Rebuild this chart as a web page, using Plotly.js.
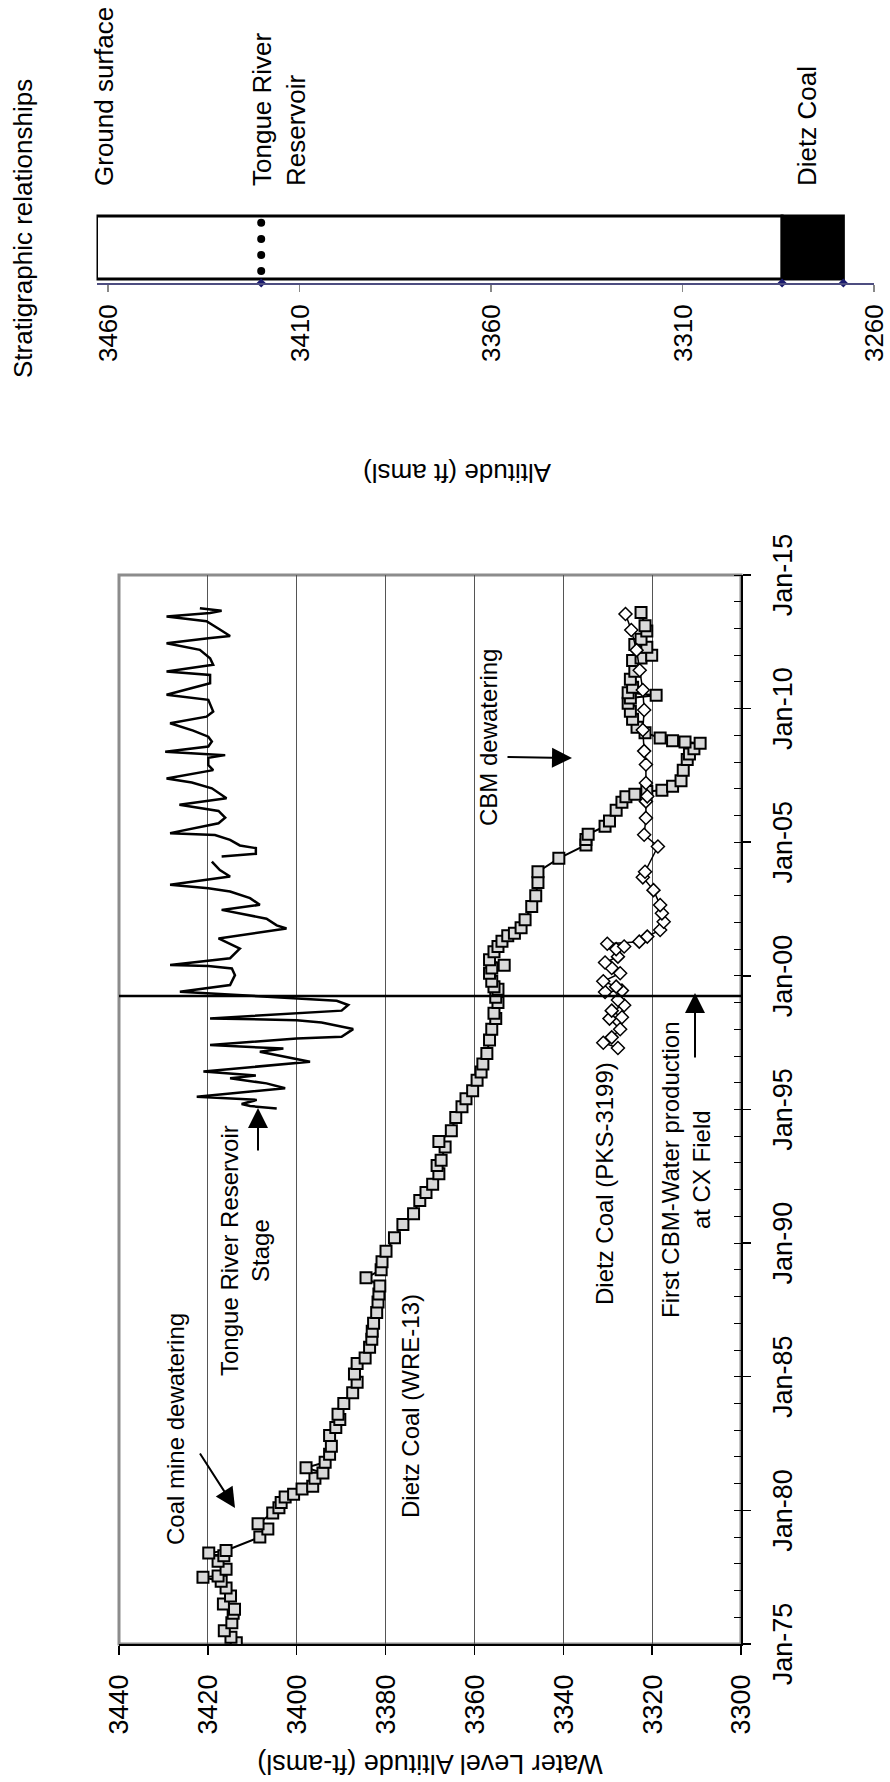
<!DOCTYPE html>
<html><head><meta charset="utf-8">
<script src="https://cdn.plot.ly/plotly-3.0.1.min.js"></script>
<style>
html,body{margin:0;padding:0;background:#fff;overflow:hidden;width:890px;height:1782px;}
#wrap{position:absolute;left:0;top:0;width:1782px;height:890px;transform-origin:0 0;transform:translate(0px,1782px) rotate(-90deg);}
#chart{width:1782px;height:890px;}
</style></head><body><div id="wrap"><div id="chart"></div></div>
<script>
// ---- Dietz Coal (WRE-13) water level (decimal year, ft-amsl)
const wreYears = [1975.05,1975.25,1975.5,1975.8,1976.15,1976.3,1976.5,1976.8,1977.1,1977.35,1977.5,1977.55,1977.8,1978.1,1978.3,1978.4,1978.5,
1979.0,1979.3,1979.5,1979.9,1980.1,1980.3,1980.5,1980.6,1980.8,1980.9,1981.2,1981.4,1981.6,1981.8,1982.1,1982.4,1982.8,1983.1,1983.4,1983.6,
1984.0,1984.4,1984.8,1985.1,1985.5,1985.7,1986.1,1986.4,1986.7,1987.0,1987.4,1987.8,1988.1,1988.4,1988.7,1989.0,1989.3,1989.7,1990.2,1990.7,
1991.1,1991.6,1991.9,1992.2,1992.6,1992.9,1993.1,1993.6,1993.8,1994.2,1994.7,1995.1,1995.4,1995.7,1996.1,1996.4,1996.7,1997.1,1997.6,1998.0,
1998.4,1998.6,1999.0,1999.2,1999.5,1999.6,1999.8,2000.1,2000.3,2000.4,2000.6,2000.9,2001.1,2001.3,2001.5,2001.6,2001.8,2002.1,2002.6,2003.0,
2003.5,2003.9,2004.4,2004.9,2005.1,2005.3,2005.6,2005.8,2006.2,2006.5,2006.7,2006.8,2006.9,2006.95,2007.1,2007.3,2007.7,2008.1,2008.3,2008.5,
2008.7,2008.75,2008.8,2008.9,2009.1,2009.3,2009.6,2009.9,2010.2,2010.4,2010.5,2010.6,2010.8,2011.1,2011.4,2011.8,2011.9,2012.0,2012.3,2012.4,
2012.6,2012.9,2013.1,2013.6];
const wreLevels = [3413.6,3414.8,3416.3,3414.6,3414.3,3414.0,3416.5,3414.9,3415.9,3417.0,3421.1,3417.7,3415.9,3417.7,3416.4,3419.8,3415.9,
3408.3,3406.5,3408.7,3405.4,3404.0,3403.5,3402.6,3400.7,3398.8,3396.4,3395.9,3394.1,3397.9,3393.6,3392.6,3392.2,3392.6,3391.2,3390.3,3390.7,
3389.4,3387.4,3386.4,3387.0,3386.4,3384.6,3383.6,3383.1,3383.0,3382.7,3382.0,3381.7,3381.5,3381.3,3384.4,3381.0,3380.8,3379.9,3378.0,3376.1,
3373.7,3372.3,3370.9,3369.4,3368.0,3368.4,3367.5,3366.6,3368.0,3365.2,3364.2,3362.8,3361.9,3360.4,3359.4,3358.5,3358.1,3357.2,3356.6,3356.1,
3355.2,3355.6,3354.7,3355.2,3354.7,3355.6,3356.1,3356.6,3356.1,3353.3,3356.6,3355.6,3354.7,3353.8,3352.5,3351.0,3349.5,3348.6,3347.1,3346.2,
3345.7,3345.7,3341.0,3334.9,3334.9,3334.4,3330.6,3329.6,3328.1,3326.8,3325.9,3323.9,3321.2,3317.8,3315.4,3313.5,3313.0,3312.1,3311.6,3310.6,
3309.2,3312.6,3315.4,3318.2,3321.6,3323.4,3324.4,3324.9,3325.4,3324.9,3319.1,3325.4,3324.4,3324.9,3323.9,3324.4,3322.5,3320.1,3321.2,3323.9,
3322.5,3321.2,3321.6,3322.5];

// ---- Dietz Coal (PKS-3199)
const pksYears = [1997.3,1997.5,1997.7,1998.0,1998.4,1998.45,1998.7,1998.9,1999.1,1999.4,1999.45,1999.6,1999.8,2000.1,2000.3,2000.5,2000.72,
2001.0,2001.1,2001.2,2001.28,2001.47,2001.72,2002.03,2002.34,2002.65,2003.21,2003.69,2003.9,2004.84,2005.28,2005.91,2006.53,2006.72,2007.22,
2007.91,2008.41,2009.2,2009.95,2010.7,2011.44,2012.19,2012.94,2013.54];
const pksLevels = [3327.7,3331.0,3329.1,3327.2,3329.6,3326.8,3329.1,3326.3,3327.7,3330.6,3326.8,3328.1,3331.0,3327.2,3329.1,3330.6,3327.7,
3328.1,3326.3,3330.1,3322.9,3321.1,3318.2,3317.4,3317.8,3318.2,3319.7,3322.1,3321.6,3318.7,3321.8,3321.4,3321.4,3321.1,3321.4,
3321.4,3321.8,3322.1,3321.8,3322.1,3322.8,3323.5,3324.7,3326.0];

// ---- Tongue River Reservoir stage
const resYears = [1995.04,1995.13,1995.21,1995.36,1995.48,1995.80,1995.98,1996.17,1996.27,1996.42,1996.79,1997.16,1997.28,1997.41,1997.66,
1997.72,1998.01,1998.26,1998.34,1998.41,1998.70,1998.91,1999.07,1999.41,1999.66,2000.03,2000.28,2000.37,2000.41,2000.66,2000.97,2001.02,
2001.40,2001.77,2001.89,2002.14,2002.47,2002.66,2002.91,2003.16,2003.28,2003.41,2003.72,2003.96,2004.28,2004.38,2004.47,2004.57,2004.78,
2004.88,2005.09,2005.27,2005.34,2005.62,2005.71,2005.92,2006.17,2006.40,2006.65,2007.02,2007.24,2007.39,2007.70,2007.89,2008.16,2008.26,
2008.39,2008.58,2008.77,2008.95,2009.18,2009.45,2009.70,2009.89,2010.33,2010.52,2010.95,2011.26,2011.39,2011.64,2011.89,2012.20,2012.45,
2012.63,2012.72,2012.96,2013.27,2013.45,2013.58,2013.66,2013.76];
const resStage = [3404.5,3410.5,3412.4,3409.0,3422.5,3402.6,3406.8,3415.0,3409.2,3421.0,3397.0,3408.3,3403.0,3419.5,3400.0,
3389.9,3387.3,3394.4,3400.0,3419.5,3389.9,3388.4,3391.0,3426.3,3415.0,3413.9,3414.6,3419.9,3428.5,3415.0,3413.1,3412.8,
3417.6,3402.3,3404.5,3406.8,3416.9,3408.3,3410.5,3415.0,3419.9,3428.5,3415.0,3417.3,3419.1,null,3416.9,3409.2,3409.2,
3412.8,3415.0,3418.4,3428.5,3419.9,3417.6,3416.1,3417.6,3426.4,3415.8,3419.1,3423.6,3429.3,3418.8,3419.9,3419.9,3416.1,
3429.6,3419.9,3419.1,3419.9,3423.3,3428.5,3420.3,3418.8,3419.9,3429.3,3419.5,3419.5,3429.3,3418.8,3419.5,3421.8,3429.3,
3419.9,3415.0,3417.3,3420.3,3429.3,3419.5,3416.9,3421.8];

const firstCBMYear = 1999.25;

// ---- Stratigraphic column (ft amsl)
const groundSurface = 3463;
const reservoirLevel = 3420;
const coalTop = 3284;
const coalBottom = 3268;
const stratTicks = [3260, 3310, 3360, 3410, 3460];

function yr(d){
  const y = Math.floor(d);
  const s = Date.UTC(y,0,1), e = Date.UTC(y+1,0,1);
  return new Date(s + (d - y) * (e - s)).toISOString().slice(0,10);
}

const W = 1782, H = 890;
const px = v => v / W;
const py = v => 1 - v / H;
const FONT = 'Liberation Sans, Arial, sans-serif';

const traces = [
  {x: resYears.map(yr), y: resStage, mode: 'lines', connectgaps: false,
   line: {color: '#000', width: 2.5}, xaxis: 'x', yaxis: 'y', name: 'Tongue River Reservoir Stage'},
  {x: wreYears.map(yr), y: wreLevels, mode: 'lines+markers',
   line: {color: '#000', width: 2},
   marker: {symbol: 'square', size: 11, color: '#d9d9d9', line: {color: '#000', width: 2}},
   xaxis: 'x', yaxis: 'y', name: 'Dietz Coal (WRE-13)'},
  {x: pksYears.map(yr), y: pksLevels, mode: 'lines+markers',
   line: {color: '#000', width: 1.5},
   marker: {symbol: 'diamond', size: 10, color: '#fff', line: {color: '#000', width: 1.5}},
   xaxis: 'x', yaxis: 'y', name: 'Dietz Coal (PKS-3199)'},
  {type: 'bar', x: [0.5], y: [groundSurface - coalTop], base: [coalTop], width: [0.887],
   marker: {color: '#fff', line: {color: '#000', width: 3}}, xaxis: 'x2', yaxis: 'y2'},
  {type: 'bar', x: [0.5], y: [coalTop - coalBottom], base: [coalBottom], width: [0.887],
   marker: {color: '#000', line: {color: '#000', width: 3}}, xaxis: 'x2', yaxis: 'y2'},
  {x: [0.17, 0.395, 0.62, 0.85], y: [reservoirLevel, reservoirLevel, reservoirLevel, reservoirLevel],
   mode: 'markers', marker: {color: '#000', size: 8}, xaxis: 'x2', yaxis: 'y2'},
  {x: [0, 0, 0], y: [reservoirLevel, coalTop, coalBottom], mode: 'markers', cliponaxis: false,
   marker: {symbol: 'diamond', size: 7, color: '#1a1a6e'}, xaxis: 'x2', yaxis: 'y2'}
];

const arrowBase = {text: '', showarrow: true, arrowhead: 2, arrowsize: 2, arrowwidth: 2,
  arrowcolor: '#000', xref: 'paper', yref: 'paper', axref: 'pixel', ayref: 'pixel', standoff: 0};
function arrow(hx, hy, tx, ty){
  return Object.assign({}, arrowBase, {x: px(hx), y: py(hy), ax: tx - hx, ay: ty - hy});
}
function label(text, x, y, xanchor, size, align, angle){
  return {text: text, x: px(x), y: py(y), xref: 'paper', yref: 'paper', xanchor: xanchor,
    yanchor: 'middle', showarrow: false, align: align || 'left', textangle: angle || 0,
    font: {size: size, color: '#000'}};
}

const layout = {
  width: W, height: H,
  margin: {l: 0, r: 0, t: 0, b: 0},
  paper_bgcolor: '#fff', plot_bgcolor: '#fff',
  font: {family: FONT, color: '#000', size: 26},
  showlegend: false,
  barmode: 'overlay',
  xaxis: {
    domain: [px(138), px(1207)], anchor: 'y', type: 'date',
    range: ['1975-01-01', '2015-01-01'], tick0: '1975-01-01', dtick: 'M60', tickformat: '%b-%y',
    ticks: 'outside', ticklen: 8, tickwidth: 1.5, tickcolor: '#000',
    minor: {dtick: 'M12', ticks: 'inside', ticklen: 7, tickwidth: 1, tickcolor: '#000', showgrid: false},
    showline: true, linecolor: '#000', linewidth: 2, showgrid: false, zeroline: false,
    tickfont: {size: 27, color: '#000'}, ticklabelstandoff: 9
  },
  yaxis: {
    domain: [py(741), py(119)], anchor: 'x', range: [3300, 3440], tick0: 3300, dtick: 20,
    ticks: 'outside', ticklen: 9, tickwidth: 1.5, tickcolor: '#000',
    showline: true, linecolor: '#000', linewidth: 2,
    showgrid: true, gridcolor: '#555', gridwidth: 1, zeroline: false,
    tickfont: {size: 27, color: '#000'}, ticklabelstandoff: 14,
    title: {text: 'Water Level Altitude (ft-amsl)', font: {size: 27, color: '#000'}, standoff: 12}
  },
  xaxis2: {domain: [px(1499), px(1570)], anchor: 'y2', range: [0, 1], visible: false},
  yaxis2: {
    domain: [py(874), py(96.5)], anchor: 'x2', side: 'left', range: [3260, 3463],
    tickvals: stratTicks, ticks: 'outside', ticklen: 7, tickwidth: 1.5, tickcolor: '#888',
    showline: true, linecolor: '#4d4d80', linewidth: 2, showgrid: false, zeroline: false,
    tickfont: {size: 26, color: '#000'}, ticklabelstandoff: 7, ticklabeloverflow: 'allow'
  },
  shapes: [
    {type: 'rect', xref: 'x domain', yref: 'y domain', x0: 0, x1: 1, y0: 0, y1: 1,
     line: {color: '#8c8c8c', width: 3}, layer: 'below'},
    {type: 'line', xref: 'x', yref: 'y domain', x0: yr(firstCBMYear), x1: yr(firstCBMYear), y0: 0, y1: 1,
     line: {color: '#000', width: 2.5}}
  ],
  annotations: [
    label('Altitude (ft amsl)', 1309, 457, 'center', 26, 'center', -90),
    label('Stratigraphic relationships', 1402, 23, 'left', 26),
    label('Ground surface', 1594, 104, 'left', 26),
    label('Tongue River<br>Reservoir', 1594, 279, 'left', 26),
    label('Dietz Coal', 1594, 807, 'left', 26),
    label('Coal mine dewatering', 235, 176, 'left', 24),
    label('Tongue River Reservoir<br>Stage', 531, 245, 'center', 24, 'center'),
    label('Dietz Coal (WRE-13)', 262, 410, 'left', 24),
    label('Dietz Coal (PKS-3199)', 475, 604, 'left', 24),
    label('First CBM-Water production<br>at CX Field', 612, 686, 'center', 24, 'center'),
    label('CBM dewatering', 954, 489, 'left', 24),
    arrow(274, 235, 330, 199),
    arrow(674, 258, 630, 258),
    arrow(789, 695, 723, 695),
    arrow(1024, 572, 1025, 506)
  ]
};

Plotly.newPlot('chart', traces, layout, {staticPlot: true, displayModeBar: false});
</script></body></html>
